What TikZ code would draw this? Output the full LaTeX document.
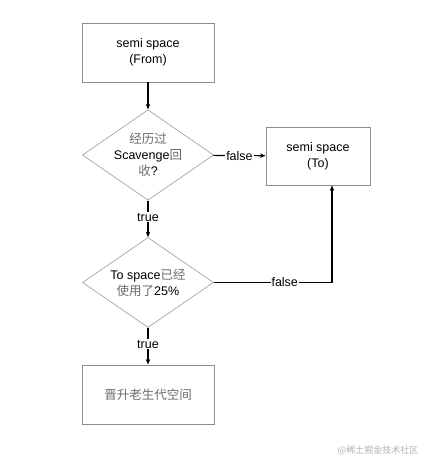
\documentclass[tikz,border=0pt]{standalone}
\usepackage{fontspec}
\setmainfont{Liberation Sans}
\newfontfamily\cjk{Noto Sans CJK SC}
\usetikzlibrary{shapes.geometric,arrows.meta}
\definecolor{boxline}{HTML}{8C8C8C}
\definecolor{cjkgray}{HTML}{6A6A6A}
\begin{document}
\begin{tikzpicture}[x=1pt,y=-1pt,
  every node/.style={font=\fontsize{12.5}{16}\selectfont},
  procbox/.style={draw=boxline,line width=0.9pt,minimum width=132pt,minimum height=59pt,align=center,inner sep=0pt},
  decision/.style={draw=boxline!80,line width=0.7pt,diamond,aspect=1.45,minimum width=131pt,minimum height=90pt,align=center,inner sep=0pt},
  link/.style={line width=1.2pt,-{Stealth[length=5.5pt,width=4.5pt]}},
  lbl/.style={fill=white,inner sep=1pt}
]
\useasboundingbox (0,0) rectangle (430,465);
\node[procbox] (from) at (148,52.5) {semi space\\(From)};
\node[decision] (d1) at (148,155) {{\cjk\color{cjkgray}经历过}\\Scavenge{\cjk\color{cjkgray}回}\\{\cjk\color{cjkgray}收}?};
\node[procbox,minimum width=104pt,minimum height=58pt] (to) at (318,156) {semi space\\(To)};
\node[decision] (d2) at (148,282.5) {To space{\cjk\color{cjkgray}已经}\\{\cjk\color{cjkgray}使用了}25\%};
\node[procbox] (old) at (148,394.5) {{\cjk\color{cjkgray}晋升老生代空间}};
\coordinate (bend) at (332,282.5);
\draw[link] (from) -- (d1);
\draw[link] (d1) -- node[lbl]{false} (to);
\draw[link] (d1) -- node[lbl,pos=0.45]{true} (d2);
\draw[link] (d2.east) -- node[lbl,pos=0.6]{false} (bend) -- (bend |- to.south);
\draw[link] (d2) -- node[lbl,pos=0.45]{true} (old);
\node[font=\cjk\fontsize{9}{11}\selectfont,text=black!30] (wm) at (378,450) {@稀土掘金技术社区};
\end{tikzpicture}
\end{document}
